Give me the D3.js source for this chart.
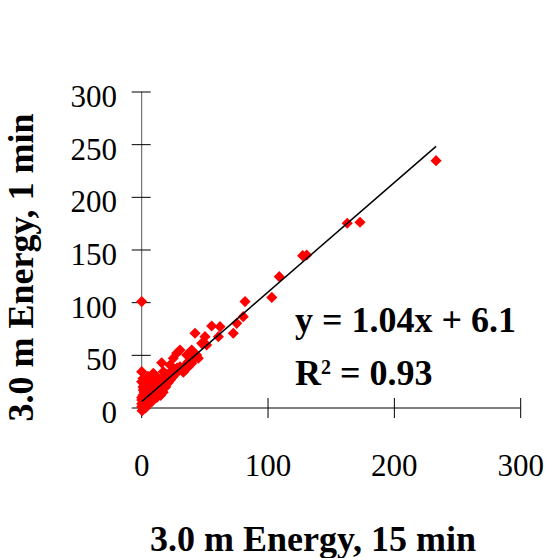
<!DOCTYPE html>
<html>
<head>
<meta charset="utf-8">
<script src="https://cdn.jsdelivr.net/npm/d3@7"></script>
<style>
  body { margin: 0; background: #fff; }
  svg { display: block; }
</style>
</head>
<body>
<svg id="chart"></svg>
<script>
// Data: 15 min energy (x) vs 1 min energy (y)
const energy15 = [
  0, 81.8, 103, 80.4, 75.2, 72.5, 55.4, 62, 60.7, 50.1, 42.2, 47.5, 51.4, 39.6, 30.3, 27.7,
  35.6, 25, 15.8, 22.4, 30.3, 36.9, 40.9, 43.5, 42.2, 44.8, 36.9, 39.6, 0, 9.2, 11.9, 17.1,
  6.6, 2.6, 1.3, 4, 7.9, 11.9, 9.2, 0, 0, 0.3, 108.9, 127.4, 130.6, 162.7, 172.8, 233,
  1, 2, 3, 4, 5, 6, 7, 8, 10, 12, 14, 15, 3, 2, 1, 4, 6, 8, 10, 12, 13, 16, 18, 20, 22, 24,
  26, 28, 30, 32, 34, 38, 40, 0, 1, 5, 7, 9, 11, 2, 1, 0, 5, 3, 0, 1, 15, 17, 19, 21, 23, 25,
  27, 12, 8, 5, 15, 20, 33, 35, 18, 14, 10
];
const energy1 = [
  101, 101, 105, 86.7, 80.4, 71, 77.9, 77.2, 67.7, 67.7, 71, 61.4, 59.8, 55, 55, 52,
  50.3, 47.2, 43, 40.8, 39.2, 44, 47.2, 50.3, 48.7, 47.2, 39.2, 42.4, 34.5, 33, 29.7, 34.5,
  26.6, 23.4, 17, 14, 17, 20.2, 10.7, 7.6, 1.2, -2.5, 124.7, 144.6, 145.3, 175.4, 176.3, 234.8,
  3, 5, 8, 6, 10, 9, 12, 14, 15, 17, 19, 22, 12, 15, 20, 18, 20, 24, 26, 28, 25, 28, 30, 32, 33, 35,
  37, 38, 36, 38, 40, 44, 45, 25, 28, 30, 28, 22, 20, 2, 1, 4, 4, 0, 10, 12, 12, 15, 20, 24, 27, 30,
  33, 10, 6, 3, 14, 25, 34, 37, 24, 26, 31
];
const xTicks = [0, 100, 200, 300];
const yTicks = [0, 50, 100, 150, 200, 250, 300];
const slope = 1.04, intercept = 6.1;
const eqLabel = "y = 1.04x + 6.1";
const r2Value = "0.93";
const xTitle = "3.0 m Energy, 15 min";
const yTitle = "3.0 m Energy, 1 min";

const W = 547, H = 558;
const svg = d3.select("#chart").attr("width", W).attr("height", H);
const points = energy15.map((x, i) => ({ x, y: energy1[i] }));

// Thang đo
const x = d3.scaleLinear().domain([0, 300]).range([141.7, 520.7]);
const y = d3.scaleLinear().domain([0, 300]).range([408, 92]);

const serif = "'Liberation Serif', 'Times New Roman', serif";

// Trục Y: đường + vạch cắt ngang
const yAxis = svg.append("g");
yAxis.append("line")
  .attr("x1", x(0)).attr("x2", x(0))
  .attr("y1", y(0)).attr("y2", y(300))
  .attr("stroke", "#555").attr("stroke-width", 1);
yAxis.selectAll(".ytick").data(yTicks).enter().append("line")
  .attr("x1", x(0) - 10).attr("x2", x(0) + 9)
  .attr("y1", d => y(d)).attr("y2", d => y(d))
  .attr("stroke", "#000");
yAxis.selectAll(".ylab").data(yTicks).enter().append("text")
  .attr("x", 117).attr("y", d => y(d) + 15)
  .attr("text-anchor", "end")
  .style("font-family", serif).style("font-size", "31px")
  .text(d => d);

// Trục X
const xAxis = svg.append("g");
xAxis.append("line")
  .attr("x1", x(0)).attr("x2", x(300))
  .attr("y1", y(0)).attr("y2", y(0))
  .attr("stroke", "#000");
xAxis.selectAll(".xtick").data(xTicks).enter().append("line")
  .attr("x1", d => x(d)).attr("x2", d => x(d))
  .attr("y1", y(0) - 10).attr("y2", y(0) + 10)
  .attr("stroke", "#000");
xAxis.selectAll(".xlab").data(xTicks).enter().append("text")
  .attr("x", d => x(d)).attr("y", 476)
  .attr("text-anchor", "middle")
  .style("font-family", serif).style("font-size", "31px")
  .text(d => d);

// Điểm dữ liệu (hình thoi)
const diamond = d3.symbol().type(d3.symbolSquare).size(62);
svg.selectAll(".pt").data(points).enter().append("path")
  .attr("d", diamond)
  .attr("transform", d => `translate(${x(d.x)},${y(d.y)}) rotate(45)`)
  .attr("fill", "#ff0000");

// Đường hồi quy
const [xmin, xmax] = d3.extent(energy15);
svg.append("line")
  .attr("x1", x(xmin)).attr("y1", y(slope * xmin + intercept))
  .attr("x2", x(xmax)).attr("y2", y(slope * xmax + intercept))
  .attr("stroke", "#000").attr("stroke-width", 1.5);

// Phương trình
svg.append("text")
  .attr("x", 295).attr("y", 332)
  .style("font-family", serif).style("font-size", "36px").style("font-weight", "bold")
  .text(eqLabel);
const r2 = svg.append("text")
  .attr("x", 295).attr("y", 385)
  .style("font-family", serif).style("font-size", "36px").style("font-weight", "bold");
r2.append("tspan").text("R");
r2.append("tspan").attr("dy", -11).style("font-size", "20px").text("2");
r2.append("tspan").attr("dy", 11).text(" = " + r2Value);

// Tiêu đề trục
svg.append("text")
  .attr("x", 313).attr("y", 551)
  .attr("text-anchor", "middle")
  .style("font-family", serif).style("font-size", "36px").style("font-weight", "bold")
  .text(xTitle);
svg.append("text")
  .attr("transform", "translate(33,267.5) rotate(-90)")
  .attr("text-anchor", "middle")
  .style("font-family", serif).style("font-size", "36px").style("font-weight", "bold")
  .text(yTitle);
</script>
</body>
</html>
